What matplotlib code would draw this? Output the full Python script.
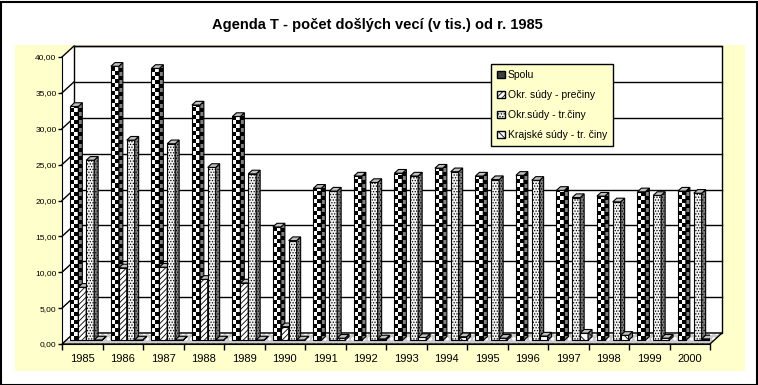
import matplotlib
matplotlib.use("Agg")
import matplotlib.pyplot as plt
import numpy as np
from matplotlib.patches import Polygon, Rectangle, Patch
from matplotlib.colors import ListedColormap
from matplotlib.ticker import FuncFormatter
from matplotlib import font_manager

# data (thousands of cases)
years = [str(y) for y in range(1985, 2001)]
spolu = [32.6, 38.2, 37.9, 32.8, 31.2, 15.8, 21.2, 22.9, 23.3, 24.0, 22.9, 23.0, 20.9, 20.1, 20.7, 20.8]
precin = [7.4, 10.1, 10.2, 8.5, 8.0, 1.9, 0, 0, 0, 0, 0, 0, 0, 0, 0, 0]
trcin = [25.1, 27.9, 27.4, 24.1, 23.2, 13.9, 20.8, 22.0, 22.9, 23.5, 22.4, 22.3, 19.9, 19.3, 20.2, 20.5]
krajske = [0.05, 0.05, 0.05, 0.05, 0.05, 0.05, 0.3, 0.2, 0.4, 0.5, 0.3, 0.6, 1.0, 0.7, 0.3, 0.2]
series_names = ["Spolu", "Okr. súdy - prečiny", "Okr.súdy - tr.činy", "Krajské súdy - tr. činy"]

names = {f.name for f in font_manager.fontManager.ttflist}
narrow = "Liberation Sans Narrow" if "Liberation Sans Narrow" in names else "Liberation Sans"
plt.rcParams["font.family"] = ["Liberation Sans", "DejaVu Sans"]
plt.rcParams["hatch.linewidth"] = 0.6

W, H = 758, 385
fig = plt.figure(figsize=(W / 100, H / 100), dpi=100)
fig.patch.set_facecolor("white")

# yellow chart area + outer frame
fig.patches.append(Rectangle((15 / W, 1 - 371 / H), 730 / W, 326 / H, transform=fig.transFigure,
                             facecolor="#ffffcc", edgecolor="none", zorder=-5))
fig.patches.append(Rectangle((0.5 / W, 0.5 / H), 1 - 2 / W, 1 - 2 / H, transform=fig.transFigure,
                             facecolor="none", edgecolor="black", linewidth=1.5, zorder=10))

# front plane of the 3d box: x 62..710 px, y 344 (0) .. 57 (40)
ax = fig.add_axes([62 / W, 1 - 344 / H, 648 / W, 287 / H])
ax.patch.set_visible(False)
n = len(years)
px_x = 648 / n
px_y = 287 / 40
DX, DY = 12 / px_x, 11 / px_y          # depth of the whole box
bx, by = DX / 3, DY / 3                # bars sit in the middle third
x = np.arange(n)

# walls and floor
ax.add_patch(Polygon([(-0.5, 0), (-0.5 + DX, DY), (-0.5 + DX, 40 + DY), (-0.5, 40)],
                     facecolor="white", edgecolor="none", clip_on=False, zorder=0.3))
ax.add_patch(Rectangle((-0.5 + DX, DY), n, 40, facecolor="white", edgecolor="black",
                       linewidth=1, clip_on=False, zorder=0.3))
for v in range(5, 41, 5):
    ax.plot([-0.5 + DX, n - 0.5 + DX], [v + DY, v + DY], color="black", lw=1, clip_on=False, zorder=0.4)
    ax.plot([-0.5, -0.5 + DX], [v, v + DY], color="black", lw=1, clip_on=False, zorder=0.4)
floor = [(-0.5, 0), (n - 0.5, 0), (n - 0.5 + DX, DY), (-0.5 + DX, DY)]
ax.add_patch(Polygon(floor, facecolor="#cccccc", edgecolor="white", hatch="ooo", linewidth=0,
                     clip_on=False, zorder=0.5))
ax.add_patch(Polygon(floor, facecolor="none", edgecolor="black", linewidth=1, clip_on=False, zorder=0.6))


def checker(x0, x1, y0, y1, clip, c1, c2, z):
    sx, sy = 4 / px_x, 4 / px_y
    nx = max(1, int(np.ceil((x1 - x0) / sx)))
    ny = max(1, int(np.ceil((y1 - y0) / sy)))
    grid = np.add.outer(np.arange(ny), np.arange(nx)) % 2
    im = ax.imshow(grid, cmap=ListedColormap([c1, c2]), vmin=0, vmax=1, origin="lower",
                   extent=(x0, x0 + nx * sx, y0, y0 + ny * sy), interpolation="nearest",
                   aspect="auto", zorder=z)
    im.set_clip_path(clip)


styles = [
    dict(face="white", hatch=None),
    dict(face="white", hatch="//////"),
    dict(face="#f2f2f2", hatch="......"),
    dict(face="white", hatch="\\\\\\"),
]
bw = 0.195
values = [spolu, precin, trcin, krajske]
z = 2.0
for c in range(n):
    for s in range(4):
        h = values[s][c]
        if h <= 0:
            continue
        x0 = c - 2 * bw + s * bw + bx
        x1 = x0 + bw
        st = styles[s]
        front = ax.bar(x0, h, width=bw, bottom=by, align="edge", color=st["face"],
                       edgecolor="black", linewidth=0.8, hatch=st["hatch"], zorder=z)[0]
        side = Polygon([(x1, by), (x1 + bx, 2 * by), (x1 + bx, h + 2 * by), (x1, h + by)],
                       facecolor="#808080", edgecolor="black", linewidth=0.8, zorder=z + 0.01,
                       hatch=None if s == 0 else st["hatch"])
        top = Polygon([(x0, h + by), (x1, h + by), (x1 + bx, h + 2 * by), (x0 + bx, h + 2 * by)],
                      facecolor="#c0c0c0", edgecolor="black", linewidth=0.8, zorder=z + 0.01)
        ax.add_patch(side)
        ax.add_patch(top)
        if s == 0:
            front.set_facecolor("none")
            side.set_facecolor("none")
            checker(x0, x1, by, h + by, front, "white", "black", z - 0.005)
            checker(x1, x1 + bx, by, h + 2 * by, side, "#808080", "black", z + 0.005)
        z += 0.1

ax.set_xlim(-0.5, n - 0.5)
ax.set_ylim(0, 40)
for sp in ["top", "right"]:
    ax.spines[sp].set_visible(False)
ax.spines["left"].set_zorder(50)
ax.spines["bottom"].set_zorder(50)
ax.set_yticks(range(0, 41, 5))
ax.yaxis.set_major_formatter(FuncFormatter(lambda v, p: f"{v:.2f}".replace(".", ",")))
ax.tick_params(axis="y", direction="out", length=3, width=1, pad=1, labelsize=6, labelfontfamily=narrow)
ax.set_xticks(x, labels=years)
ax.set_xticks(np.arange(-0.5, n, 1), minor=True)
ax.tick_params(axis="x", which="major", length=0, pad=7, labelsize=8, labelfontfamily=narrow)
ax.tick_params(axis="x", which="minor", direction="out", length=4, width=1)

title = fig.text(377.5 / W, 1 - 25 / H, "Agenda T - počet došlých vecí (v tis.) od r. 1985",
                 ha="center", va="center", fontsize=10.5, fontweight="bold", family=narrow)

handles = [Patch(facecolor="#404040", edgecolor="black"),
           Patch(facecolor="white", edgecolor="black", hatch="//////"),
           Patch(facecolor="#f2f2f2", edgecolor="black", hatch="......"),
           Patch(facecolor="white", edgecolor="black", hatch="\\\\\\")]
leg = fig.legend(handles, series_names, loc="upper left", bbox_to_anchor=(491 / W, 1 - 64 / H),
                 frameon=True, fancybox=False, facecolor="#ffffcc", edgecolor="black",
                 fontsize=7.5, handlelength=0.7, handleheight=0.7, handletextpad=0.3,
                 labelspacing=0.95, borderpad=0.6, borderaxespad=0)
leg.get_frame().set_linewidth(1)
leg.get_frame().set_alpha(1)
leg.set_zorder(60)

fig.savefig("out.png", dpi=100)
